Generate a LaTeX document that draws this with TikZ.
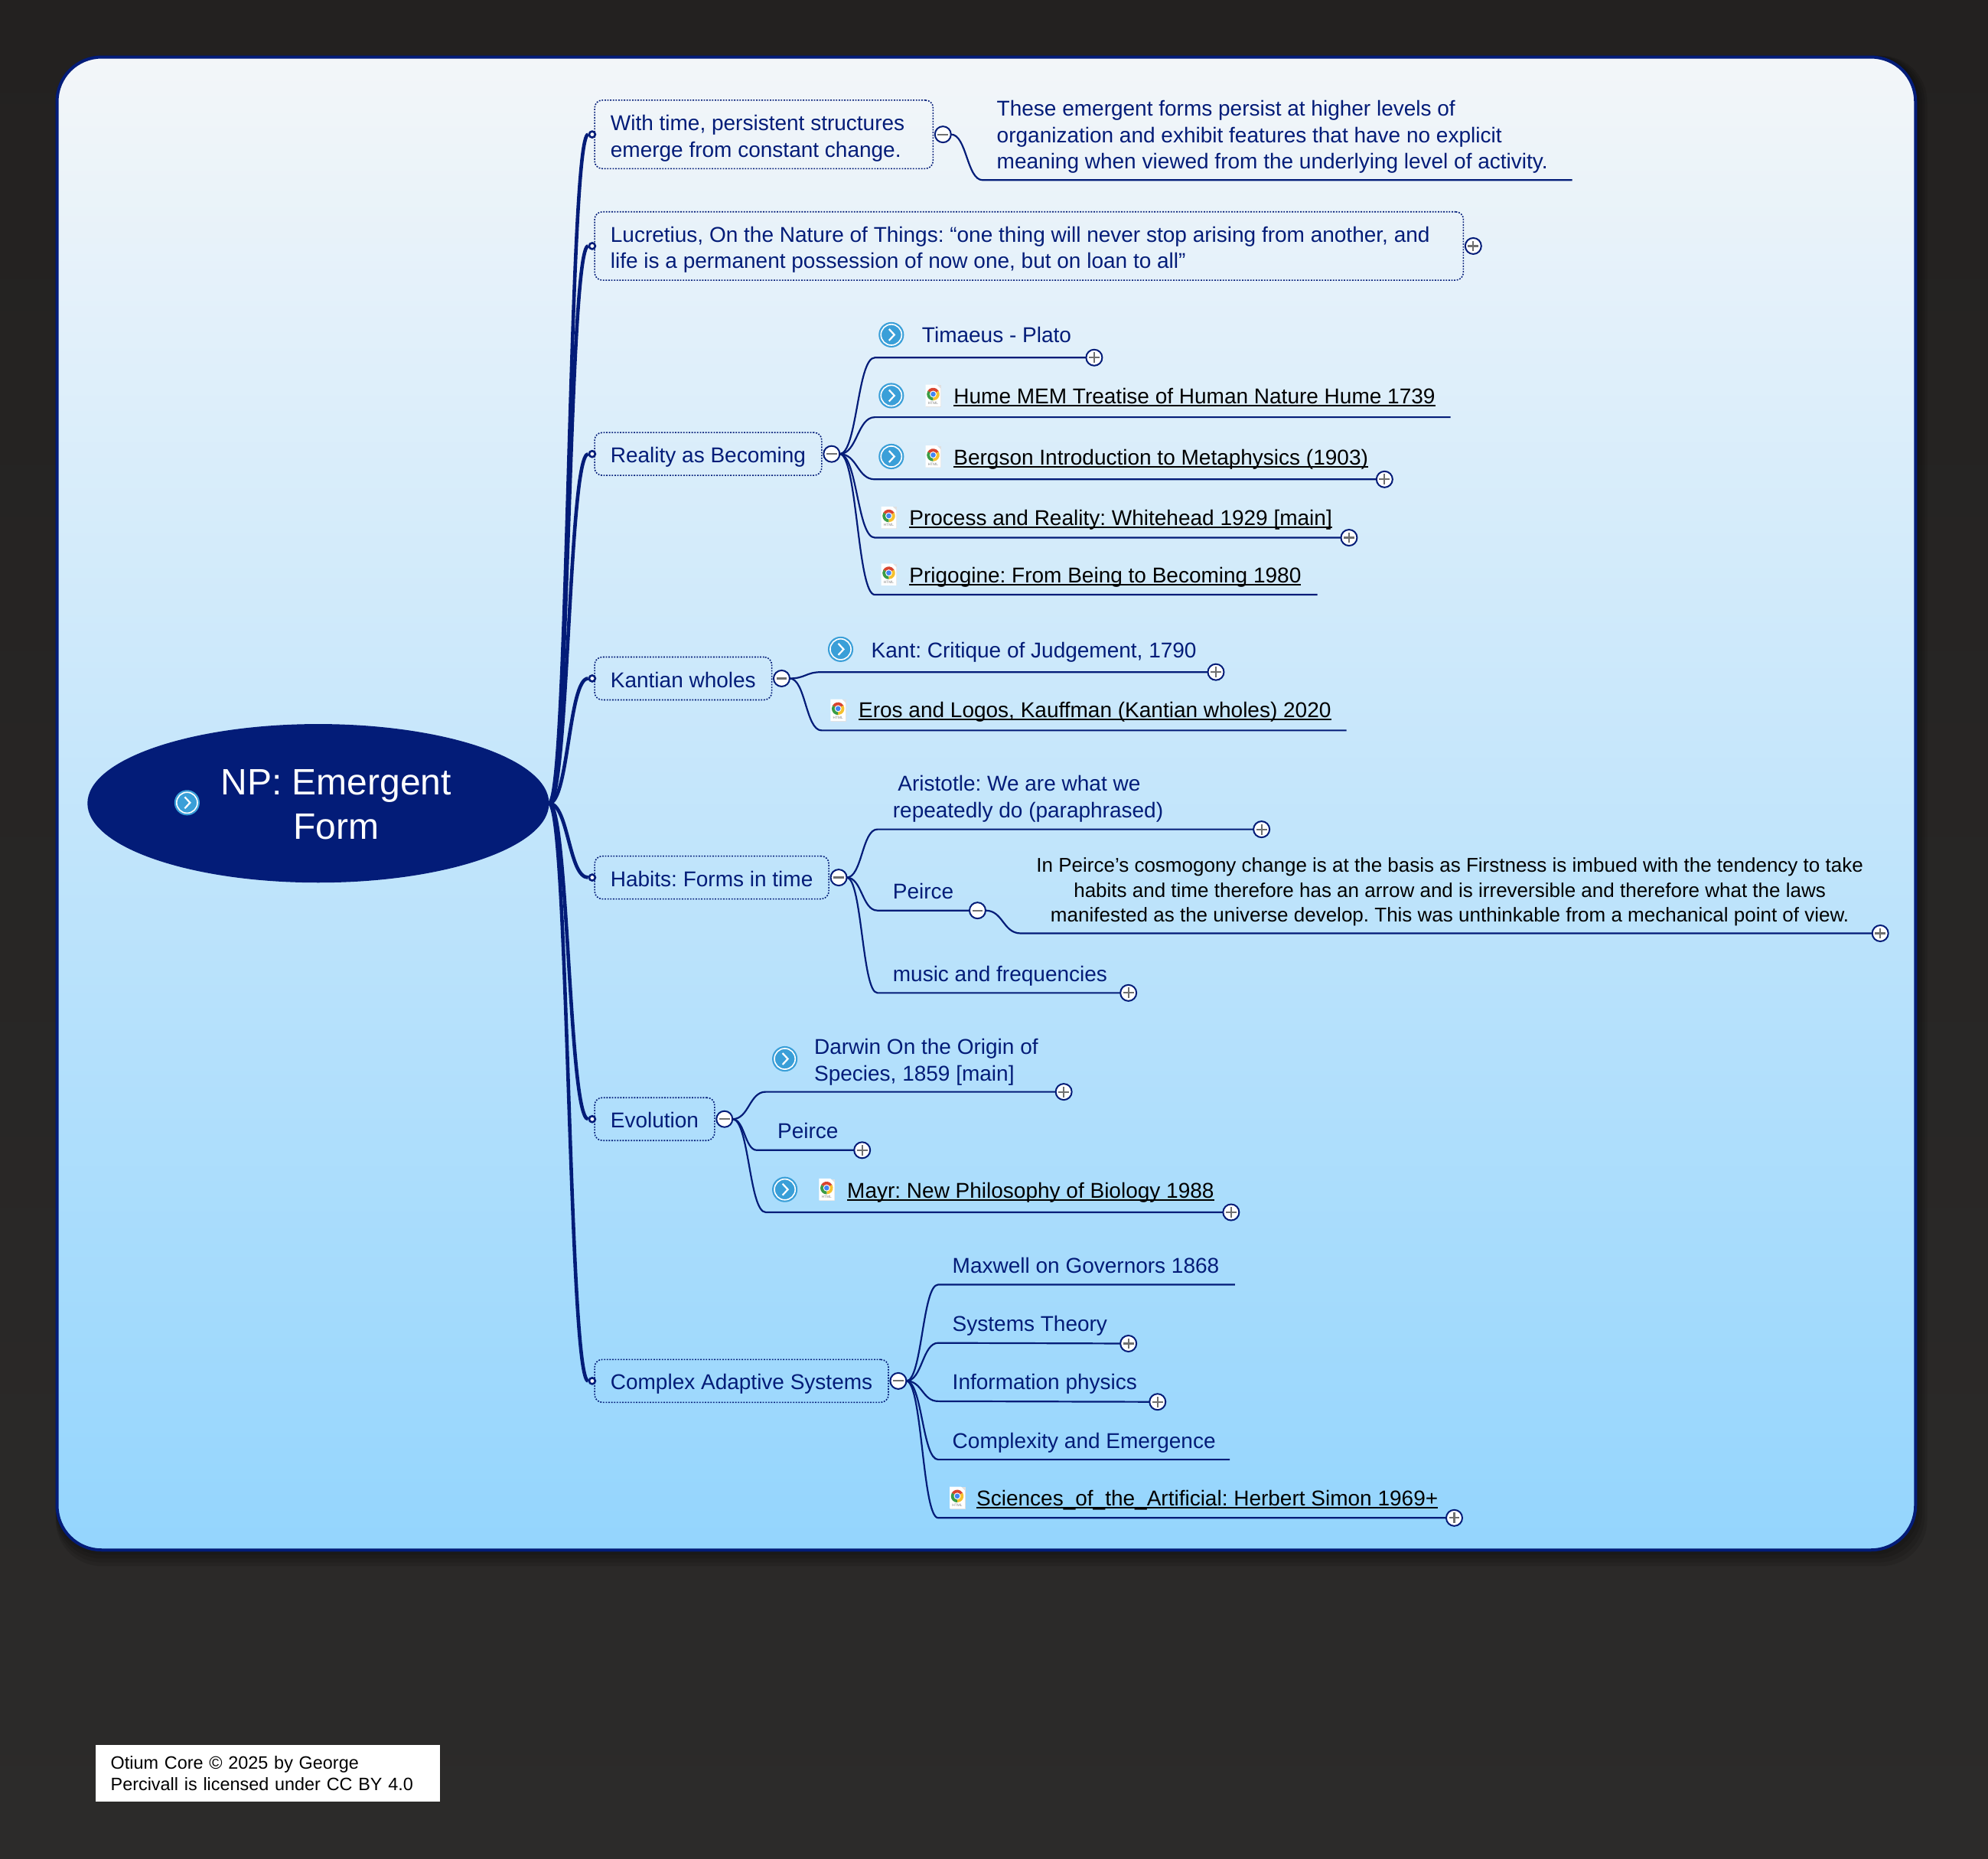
\documentclass[tikz,border=0pt]{standalone}
\usepackage{fontspec}
\setmainfont{Liberation Sans}
\usetikzlibrary{positioning,calc,shapes.geometric}
\definecolor{mapnavy}{HTML}{031C78}
\definecolor{pagetop}{HTML}{232120}
\definecolor{pagebottom}{HTML}{2C2B2A}
\definecolor{paneltop}{HTML}{F3F6F9}
\definecolor{panelbottom}{HTML}{94D5FD}
\definecolor{iconblue}{HTML}{3A9FD8}
\definecolor{togglegrey}{HTML}{707070}
\definecolor{chromered}{HTML}{D9452F}
\definecolor{chromeyellow}{HTML}{F5C12E}
\definecolor{chromegreen}{HTML}{3A9C46}
\definecolor{chromeblue}{HTML}{4285F4}
\newcommand{\bodyfont}{\fontsize{14}{17.3}\selectfont}
\newcommand{\smallbody}{\fontsize{13}{16.2}\selectfont}
\newcommand{\linktxt}[1]{\setbox0\hbox{#1}\rlap{\rule[-1.7pt]{\wd0}{0.9pt}}\box0}
\tikzset{
  panel/.style={draw=mapnavy, line width=2pt, rounded corners=29pt, top color=paneltop, bottom color=panelbottom},
  panelshadow/.style={fill=black, opacity=0.1, rounded corners=30pt},
  rootnode/.style={ellipse, fill=mapnavy, text=white, align=center, inner sep=0pt, outer sep=0pt, minimum width=301.6pt, minimum height=103.6pt, font=\fontsize{24}{29}\selectfont},
  topicbase/.style={draw=mapnavy, line width=0.8pt, dash pattern=on 0.9pt off 0.9pt, rounded corners=5pt, anchor=west, align=left, text=mapnavy, font=\bodyfont, inner xsep=10.4pt, outer sep=0pt},
  topic/.style={topicbase, inner ysep=5pt, minimum height=28pt, text height=13pt, text depth=1.4pt},
  widetopic/.style={topicbase, inner ysep=0pt, minimum height=44.7pt},
  leaf/.style={anchor=base west, text=mapnavy, font=\bodyfont, inner sep=0pt},
  multileaf/.style={anchor=west, align=left, text=mapnavy, font=\bodyfont, inner sep=0pt},
  linkleaf/.style={leaf, text=black},
  notetext/.style={align=center, text=black, font=\smallbody, inner sep=0pt},
  dotring/.style={circle, draw=mapnavy, fill=white, line width=1.3pt, inner sep=0pt, minimum size=4pt},
  togglebase/.style={circle, draw=mapnavy, fill=white, line width=1pt, inner sep=0pt, outer sep=0pt, minimum size=10.5pt},
  toggleminus/.style={togglebase,
    path picture={\draw[togglegrey, line width=1.1pt] ([xshift=1.8pt]path picture bounding box.west) -- ([xshift=-1.8pt]path picture bounding box.east);}},
  toggleplus/.style={togglebase,
    path picture={\draw[togglegrey, line width=1.1pt] ([xshift=1.8pt]path picture bounding box.west) -- ([xshift=-1.8pt]path picture bounding box.east);
      \draw[togglegrey, line width=1.1pt] ([yshift=1.8pt]path picture bounding box.south) -- ([yshift=-1.8pt]path picture bounding box.north);}},
  limb/.style={draw=mapnavy, line width=2.3pt},
  twig/.style={draw=mapnavy, line width=1.1pt},
  scurve/.style={to path={let \p1=(\tikztostart), \p2=(\tikztotarget) in .. controls (0.5*\x1+0.5*\x2,\y1) and (0.5*\x1+0.5*\x2,\y2) .. (\tikztotarget)}},
  goicon/.pic={
    \fill[iconblue] (0,0) circle (10);
    \draw[white, line width=0.8pt] (0,0) circle (8.2);
    \draw[white, line width=1.1pt] (-1.8,-4.5) -- (2.4,0) -- (-1.8,4.5);
  },
  chromeicon/.pic={
    \fill[black!12] (-5.6,-8.2) rectangle (6.4,9);
    \fill[white] (-6,-8.6) -- (3,-8.6) -- (6,-5.6) -- (6,8.6) -- (-6,8.6) -- cycle;
    \fill[chromered] (0,-1.2) -- +(210:5) arc (210:330:5) -- cycle;
    \fill[chromeyellow] (0,-1.2) -- +(-30:5) arc (-30:90:5) -- cycle;
    \fill[chromegreen] (0,-1.2) -- +(90:5) arc (90:210:5) -- cycle;
    \fill[white] (0,-1.2) circle (2.7);
    \fill[chromeblue] (0,-1.2) circle (2);
    \node[inner sep=0pt, text=gray, font=\fontsize{2.4}{3}\selectfont](htmltag) at (0,6) {HTML};
  },
}
\begin{document}
\frenchspacing
\begin{tikzpicture}[x=0.8285pt, y=-0.8285pt]
\useasboundingbox (0,0) rectangle (1568,1465.4);
\shade[top color=pagetop, bottom color=pagebottom] (0,0) rectangle (1568,1465.4);
\fill[panelshadow] (44,44) rectangle (1520,1235);
\fill[panelshadow] (44,44) rectangle (1518,1232);
\fill[panelshadow] (44,44) rectangle (1516,1229);
\fill[panelshadow] (44,44) rectangle (1514,1226);
\draw[panel] (45,45) rectangle (1510.8,1222.3);

\node[rootnode](root) at (251,633.5) {\rule{0pt}{18pt}\hspace*{23.2pt}NP: Emergent\\\hspace*{23.2pt}Form};
\pic at (147.5,633) {goicon};

\node[widetopic](t1) at (469,106) {\rule{0pt}{15pt}With time, persistent structures\hspace*{8.2pt}\\emerge from constant change.};
\node[widetopic](t2) at (469,194) {\rule{0pt}{15pt}Lucretius, On the Nature of Things: “one thing will never stop arising from another, and\hspace*{11.5pt}\\life is a permanent possession of now one, but on loan to all”};
\node[topic](t3) at (469,358) {Reality as Becoming};
\node[topic](t4) at (469,535) {Kantian wholes};
\node[topic](t5) at (469,692) {Habits: Forms in time};
\node[topic](t6) at (469,882.5) {Evolution};
\node[topic](t7) at (469,1089) {Complex Adaptive Systems};

\node[dotring](d1) at ([xshift=-1.6pt]t1.west) {};
\node[dotring](d2) at ([xshift=-1.6pt]t2.west) {};
\node[dotring](d3) at ([xshift=-1.6pt]t3.west) {};
\node[dotring](d4) at ([xshift=-1.6pt]t4.west) {};
\node[dotring](d5) at ([xshift=-1.6pt]t5.west) {};
\node[dotring](d6) at ([xshift=-1.6pt]t6.west) {};
\node[dotring](d7) at ([xshift=-1.6pt]t7.west) {};
\path[limb] (root.east) to[scurve] (d1.west);
\path[limb] (root.east) to[scurve] (d2.west);
\path[limb] (root.east) to[scurve] (d3.west);
\path[limb] (root.east) to[scurve] (d4.west);
\path[limb] (root.east) to[scurve] (d5.west);
\path[limb] (root.east) to[scurve] (d6.west);
\path[limb] (root.east) to[scurve] (d7.west);

\node[toggleminus, right=1.2pt of t1](tog1) {};
\node[toggleplus, right=1.2pt of t2](tog2) {};
\node[toggleminus, right=1.2pt of t3](tog3) {};
\node[toggleminus, right=1.2pt of t4](tog4) {};
\node[toggleminus, right=1.2pt of t5](tog5) {};
\node[toggleminus, right=1.2pt of t6](tog6) {};
\node[toggleminus, right=1.2pt of t7](tog7) {};

% first topic
\node[multileaf](c1) at (786,108) {These emergent forms persist at higher levels of\\organization and exhibit features that have no explicit\\meaning when viewed from the underlying level of activity.};
\coordinate (s1) at (775,142);
\coordinate (e1) at (1240,142);
\path[twig] (tog1.east) to[scurve] (s1) -- (e1);

% reality as becoming
\node[leaf](c3a) at (727,270) {Timaeus - Plato};
\node[linkleaf](c3b) at (752,318.6) {\linktxt{Hume MEM Treatise of Human Nature Hume 1739}};
\node[linkleaf](c3c) at (752,366.6) {\linktxt{Bergson Introduction to Metaphysics (1903)}};
\node[linkleaf](c3d) at (717,414.5) {\linktxt{Process and Reality: Whitehead 1929 [main]}};
\node[linkleaf](c3e) at (717,459.6) {\linktxt{Prigogine: From Being to Becoming 1980}};
\pic at (703,264) {goicon};
\pic at (703,312) {goicon};
\pic at (736,312) {chromeicon};
\pic at (703,360) {goicon};
\pic at (736,360) {chromeicon};
\pic at (701,408) {chromeicon};
\pic at (701,453) {chromeicon};
\coordinate (s3a) at (690,282);
\coordinate (s3b) at (690,329);
\coordinate (s3c) at (690,378);
\coordinate (s3d) at (690,424);
\coordinate (s3e) at (690,469);
\coordinate (e3b) at (1144,329);
\coordinate (e3e) at (1039,469);
\node[toggleplus](p3a) at (863,282) {};
\node[toggleplus](p3c) at (1092,378) {};
\node[toggleplus](p3d) at (1064,424) {};
\path[twig] (tog3.east) to[scurve] (s3a) -- (p3a);
\path[twig] (tog3.east) to[scurve] (s3b) -- (e3b);
\path[twig] (tog3.east) to[scurve] (s3c) -- (p3c);
\path[twig] (tog3.east) to[scurve] (s3d) -- (p3d);
\path[twig] (tog3.east) to[scurve] (s3e) -- (e3e);

% kantian wholes
\node[leaf](c4a) at (687,519) {Kant: Critique of Judgement, 1790};
\node[linkleaf](c4b) at (677,566) {\linktxt{Eros and Logos, Kauffman (Kantian wholes) 2020}};
\pic at (663,512) {goicon};
\pic at (661,560) {chromeicon};
\coordinate (s4a) at (648,530);
\coordinate (s4b) at (648,576);
\coordinate (e4b) at (1062,576);
\node[toggleplus](p4a) at (959,530) {};
\path[twig] (tog4.east) to[scurve] (s4a) -- (p4a);
\path[twig] (tog4.east) to[scurve] (s4b) -- (e4b);

% habits
\node[multileaf](c5a) at (704,630) {\hspace*{3.3pt}Aristotle: We are what we\\repeatedly do (paraphrased)};
\node[leaf](c5b) at (704,709) {Peirce};
\node[leaf](c5c) at (704,774) {music and frequencies};
\node[notetext](c5n) at (1143.5,703.3) {In Peirce’s cosmogony change is at the basis as Firstness is imbued with the tendency to take\\habits and time therefore has an arrow and is irreversible and therefore what the laws\\manifested as the universe develop. This was unthinkable from a mechanical point of view.};
\coordinate (s5a) at (692,654);
\coordinate (s5b) at (692,718);
\coordinate (s5c) at (692,783);
\coordinate (s5n) at (805,736);
\node[toggleplus](p5a) at (995,654) {};
\node[toggleminus](tog5b) at (771,718) {};
\node[toggleplus](p5c) at (890,783) {};
\node[toggleplus](p5n) at (1483,736) {};
\path[twig] (tog5.east) to[scurve] (s5a) -- (p5a);
\path[twig] (tog5.east) to[scurve] (s5b) -- (tog5b);
\path[twig] (tog5.east) to[scurve] (s5c) -- (p5c);
\path[twig] (tog5b.east) to[scurve] (s5n) -- (p5n);

% evolution
\node[multileaf](c6a) at (642,837.5) {Darwin On the Origin of\\Species, 1859 [main]};
\node[leaf](c6b) at (613,898) {Peirce};
\node[linkleaf](c6c) at (668,945) {\linktxt{Mayr: New Philosophy of Biology 1988}};
\pic at (619,835) {goicon};
\pic at (619,938) {goicon};
\pic at (652,938) {chromeicon};
\coordinate (s6a) at (604,861);
\coordinate (s6b) at (597,907);
\coordinate (s6c) at (604,956);
\node[toggleplus](p6a) at (839,861) {};
\node[toggleplus](p6b) at (680,907) {};
\node[toggleplus](p6c) at (971,956) {};
\path[twig] (tog6.east) to[scurve] (s6a) -- (p6a);
\path[twig] (tog6.east) to[scurve] (s6b) -- (p6b);
\path[twig] (tog6.east) to[scurve] (s6c) -- (p6c);

% complex adaptive systems
\node[leaf](c7a) at (751,1004) {Maxwell on Governors 1868};
\node[leaf](c7b) at (751,1050) {Systems Theory};
\node[leaf](c7c) at (751,1096) {Information physics};
\node[leaf](c7d) at (751,1142) {Complexity and Emergence};
\node[linkleaf](c7e) at (770,1187.5) {\linktxt{Sciences\_of\_the\_Artificial: Herbert Simon 1969+}};
\pic at (755,1181) {chromeicon};
\coordinate (s7a) at (740,1013);
\coordinate (s7b) at (740,1059);
\coordinate (s7c) at (740,1105);
\coordinate (s7d) at (740,1151);
\coordinate (s7e) at (740,1197);
\coordinate (e7a) at (974,1013);
\coordinate (e7d) at (970,1151);
\node[toggleplus](p7b) at (890,1059.5) {};
\node[toggleplus](p7c) at (913,1105.5) {};
\node[toggleplus](p7e) at (1147,1197) {};
\path[twig] (tog7.east) to[scurve] (s7a) -- (e7a);
\path[twig] (tog7.east) to[scurve] (s7b) -- (p7b);
\path[twig] (tog7.east) to[scurve] (s7c) -- (p7c);
\path[twig] (tog7.east) to[scurve] (s7d) -- (e7d);
\path[twig] (tog7.east) to[scurve] (s7e) -- (p7e);

\node[anchor=west, fill=white, text=black, align=left, text width=205pt, inner xsep=10pt, inner ysep=0pt, minimum height=37.3pt, font=\fontsize{11.7}{13.7}\selectfont](licence) at (75,1398.5) {Otium Core © 2025 by George\\Percivall is licensed under CC BY 4.0};
\end{tikzpicture}
\end{document}
